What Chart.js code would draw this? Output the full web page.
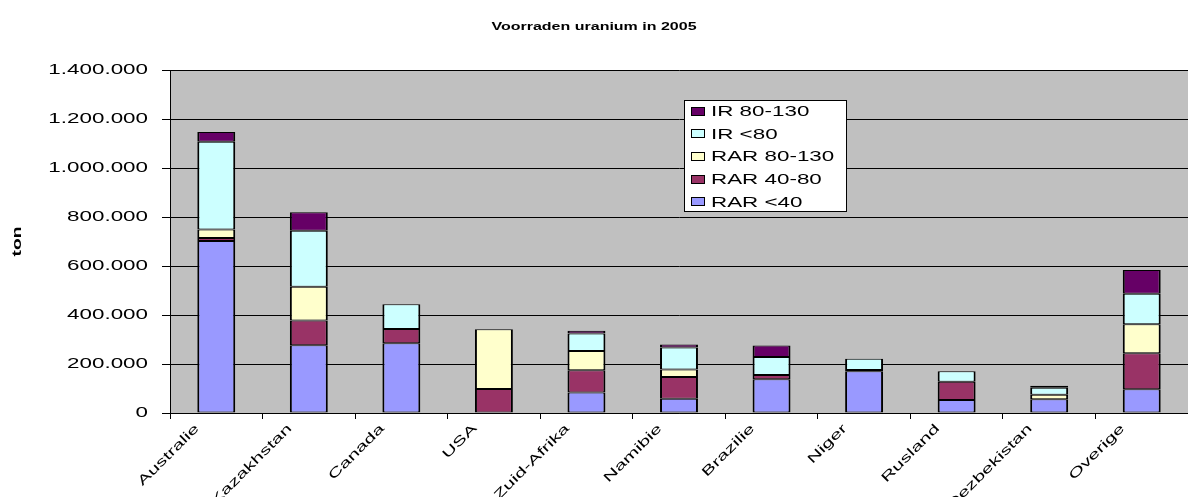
<!DOCTYPE html>
<html>
<head>
<meta charset="utf-8">
<script src="https://cdn.jsdelivr.net/npm/chart.js@4/dist/chart.umd.min.js"></script>
<style>
  html, body { margin: 0; padding: 0; background: #fff; }
  #wrap { width: 1188px; height: 497px; }
</style>
</head>
<body>
<div id="wrap"><canvas id="c" width="1188" height="497"></canvas></div>
<script>
// ---- data ----
const categories = ['Australie', 'Kazakhstan', 'Canada', 'USA', 'Zuid-Afrika', 'Namibie', 'Brazilie', 'Niger', 'Rusland', 'Oezbekistan', 'Overige'];
const rarBelow40   = [702000, 277000, 285000, null,   84000, 58000, 138000, 170000, 53000, 56000, 97000];
const rar40to80    = [12000,  101000, 58000,  98000,  90000, 89000, 17000,  6000,   75000, null,  147000];
const rar80to130   = [35000,  137000, null,   244000, 79000, 31000, null,   null,   null,  19000, 118000];
const irBelow80    = [358000, 229000, 101000, null,   72000, 89000, 74000,  45000,  42000, 28000, 125000];
const ir80to130    = [40000,  75000,  null,   null,   11000, 13000, 47000,  null,   null,  8000,  97000];
const seriesNames  = ['RAR <40', 'RAR 40-80', 'RAR 80-130', 'IR <80', 'IR 80-130'];
const seriesColors = ['#9999FF', '#993366', '#FFFFCC', '#CCFFFF', '#660066'];
const yTicks = { min: 0, max: 1400000, step: 200000 };
const chartTitle = 'Voorraden uranium in 2005';
const yTitle = 'ton';

// ---- horizontally stretched text (the reference renders text wide) ----
const S = 1.6;
const P = CanvasRenderingContext2D.prototype;
const origFill = P.fillText, origMeasure = P.measureText;
P.fillText = function (t, x, y, maxW) {
  this.save();
  this.translate(x, y);
  this.scale(S, 1);
  if (maxW !== undefined) origFill.call(this, t, 0, 0, maxW / S);
  else origFill.call(this, t, 0, 0);
  this.restore();
};
P.measureText = function (t) {
  const m = origMeasure.call(this, t);
  return {
    width: m.width * S,
    actualBoundingBoxLeft: m.actualBoundingBoxLeft * S,
    actualBoundingBoxRight: m.actualBoundingBoxRight * S,
    actualBoundingBoxAscent: m.actualBoundingBoxAscent,
    actualBoundingBoxDescent: m.actualBoundingBoxDescent,
    fontBoundingBoxAscent: m.fontBoundingBoxAscent,
    fontBoundingBoxDescent: m.fontBoundingBoxDescent
  };
};

const FONT = '"Liberation Sans", Arial, sans-serif';
Chart.defaults.font.family = FONT;
Chart.defaults.color = '#000';

const seriesData = [rarBelow40, rar40to80, rar80to130, irBelow80, ir80to130];
const datasets = seriesNames.map((name, i) => ({
  label: name,
  data: seriesData[i],
  backgroundColor: seriesColors[i],
  borderColor: '#000',
  borderWidth: { left: 2, right: 2, top: 1, bottom: 1 },
  borderSkipped: false,
  barPercentage: 0.41,
  categoryPercentage: 1.0
}));

function fmt(v) {
  return String(v).replace(/\B(?=(\d{3})+(?!\d))/g, '.');
}

const plotBg = {
  id: 'plotBg',
  beforeDraw(chart) {
    const { ctx, chartArea: a } = chart;
    ctx.save();
    ctx.fillStyle = '#C0C0C0';
    ctx.fillRect(a.left, a.top, a.right - a.left, a.bottom - a.top);
    ctx.restore();
  }
};

const boxLegend = {
  id: 'boxLegend',
  afterDraw(chart) {
    const ctx = chart.ctx;
    const x0 = 684, y0 = 100, w = 163, h = 112;
    ctx.save();
    ctx.fillStyle = '#fff';
    ctx.fillRect(x0, y0, w, h);
    ctx.strokeStyle = '#000';
    ctx.lineWidth = 1;
    ctx.strokeRect(x0 + 0.5, y0 + 0.5, w - 1, h - 1);
    const ds = chart.data.datasets.slice().reverse();
    ctx.font = '14px ' + FONT;
    ctx.textBaseline = 'middle';
    ctx.textAlign = 'left';
    ds.forEach((d, i) => {
      const cy = 111 + i * 22.7;
      ctx.fillStyle = d.backgroundColor;
      ctx.fillRect(691, Math.round(cy - 4.5), 14, 9);
      ctx.strokeStyle = '#000';
      ctx.strokeRect(691.5, Math.round(cy - 4.5) + 0.5, 13, 8);
      ctx.fillStyle = '#000';
      ctx.fillText(d.label, 711, cy + 1);
    });
    ctx.restore();
  }
};

new Chart(document.getElementById('c'), {
  type: 'bar',
  data: { labels: categories, datasets },
  options: {
    responsive: false,
    animation: false,
    layout: { padding: { left: 0, right: 0, top: 0, bottom: 0 } },
    plugins: {
      legend: { display: false },
      tooltip: { enabled: false },
      title: {
        display: true,
        text: chartTitle,
        color: '#000',
        font: { size: 10, weight: 'bold', family: FONT },
        padding: { top: 21, bottom: 37 }
      }
    },
    scales: {
      x: {
        stacked: true,
        offset: true,
        afterFit(s) { s.height = 84; },
        grid: { offset: true, drawOnChartArea: false, drawTicks: true, tickLength: 6, color: '#000' },
        border: { color: '#000', width: 1 },
        ticks: {
          autoSkip: false, minRotation: 45, maxRotation: 45,
          padding: 2, labelOffset: -19,
          font: { size: 13, family: FONT }, color: '#000'
        }
      },
      y: {
        stacked: true,
        min: yTicks.min, max: yTicks.max,
        afterFit(s) { s.width = 170; },
        grid: { color: '#000', lineWidth: 1, tickLength: 8, drawTicks: true },
        border: { color: '#000', width: 1 },
        ticks: {
          stepSize: yTicks.step, padding: 14,
          font: { size: 14, family: FONT }, color: '#000',
          callback: v => fmt(v)
        },
        title: {
          display: true, text: yTitle, color: '#000',
          font: { size: 12, weight: 'bold', family: FONT },
          padding: { top: 10, bottom: 0 }
        }
      }
    }
  },
  plugins: [plotBg, boxLegend]
});
</script>
</body>
</html>
